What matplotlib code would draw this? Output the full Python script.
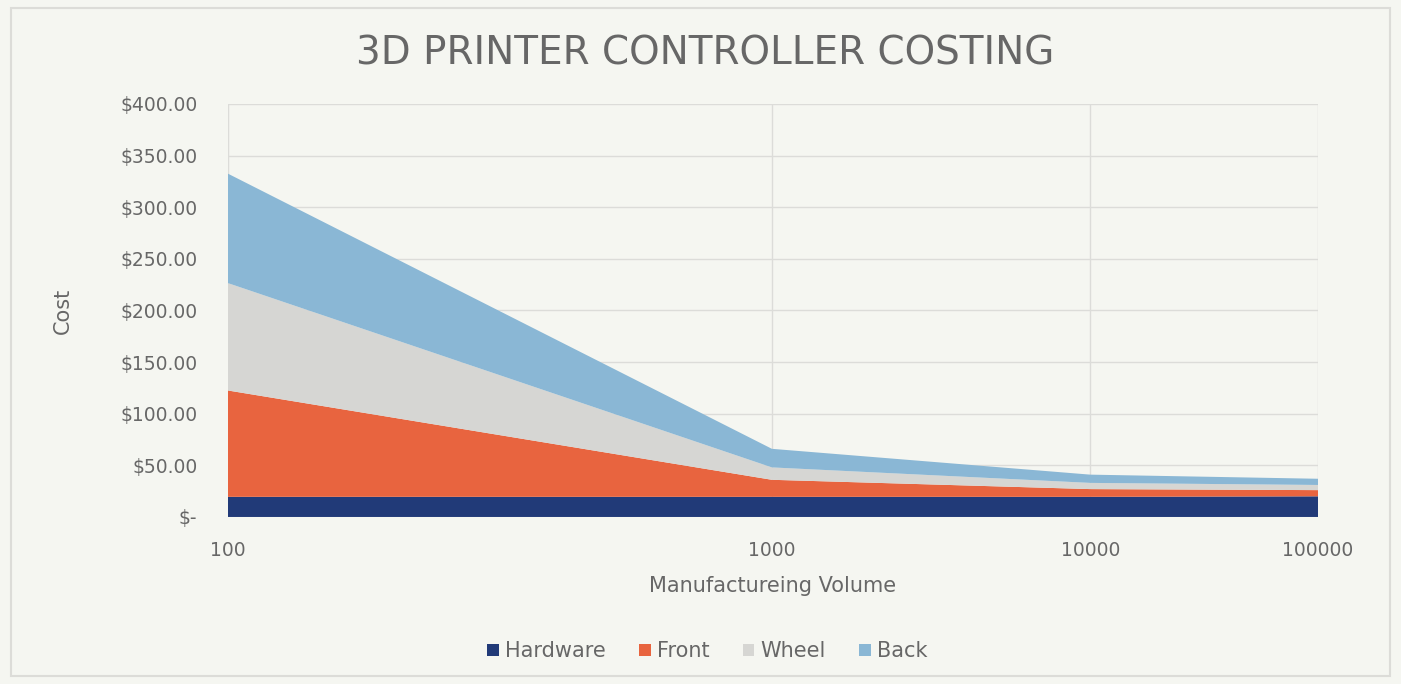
import matplotlib
matplotlib.use("Agg")
import matplotlib.pyplot as plt
import numpy as np
from matplotlib.patches import Rectangle, Patch

# ── Data ──────────────────────────────────────────────────────────────────────
volumes  = [100, 1000, 10000, 100000]
hardware = [19.5, 19.5, 19.5, 20.0]
front    = [103.0, 16.5, 7.5, 6.0]
wheel    = [104.0, 12.0, 6.0, 5.0]
back     = [106.0, 18.0, 8.0, 6.0]
series_names = ["Hardware", "Front", "Wheel", "Back"]
y_ticks  = [0, 50, 100, 150, 200, 250, 300, 350, 400]

colors = ["#213a78", "#e8643f", "#d6d6d3", "#8ab7d5"]
bg     = "#f5f6f1"
txt    = "#676767"

# The reference axis puts the categories at uneven spacing; mimic it with a scale
_logs = [2, 3, 4, 5]
_fracs = [0.0, 0.499, 0.791, 1.0]

def fwd(x):
    x = np.clip(np.asarray(x, dtype=float), 1e-9, None)
    return np.interp(np.log10(x), _logs, _fracs, left=-0.5, right=1.5)

def inv(f):
    return 10 ** np.interp(np.asarray(f, dtype=float), _fracs, _logs)

fig = plt.figure(figsize=(14.01, 6.84), dpi=100, facecolor=bg)
ax = fig.add_axes([0.1627, 0.2442, 0.9408 - 0.1627, 0.848 - 0.2442])
ax.set_facecolor(bg)
ax.set_xscale("function", functions=(fwd, inv))

ax.stackplot(volumes, hardware, front, wheel, back, colors=colors,
             labels=series_names, linewidth=0, zorder=2)

ax.set_xlim(volumes[0], volumes[-1])
ax.set_ylim(0, 400)
ax.set_xticks(volumes)
ax.set_xticklabels([str(v) for v in volumes])
ax.set_yticks(y_ticks)
ax.set_yticklabels(["$-" if v == 0 else f"${v:.2f}" for v in y_ticks])
ax.minorticks_off()
ax.tick_params(axis="both", length=0, labelsize=13.5, labelcolor=txt)
ax.tick_params(axis="y", pad=22)
ax.tick_params(axis="x", pad=17)

ax.grid(True, color="#dcdcd9", linewidth=1.0, zorder=0)
ax.set_axisbelow(True)
for s in ax.spines.values():
    s.set_visible(False)
ax.axvline(volumes[0], color="#dcdcd9", linewidth=1.5, zorder=1)

ax.set_xlabel("Manufactureing Volume", fontsize=15, color=txt, labelpad=12)
ax.set_ylabel("Cost", fontsize=15, color=txt, labelpad=34)

fig.text(0.503, 0.922, "3D PRINTER CONTROLLER COSTING", ha="center", va="center",
         fontsize=28, color=txt)

handles = [Patch(facecolor=c, edgecolor="none") for c in colors]
fig.legend(handles, series_names, loc="center", bbox_to_anchor=(0.505, 0.048),
           ncol=4, frameon=False, fontsize=15, labelcolor=txt,
           handlelength=0.55, handleheight=0.55, handletextpad=0.3, columnspacing=1.6)

fig.patches.append(Rectangle((0.008, 0.012), 0.984, 0.976, transform=fig.transFigure,
                             fill=False, edgecolor="#dcdcd8", linewidth=1.5))

fig.savefig("out.png", dpi=100, facecolor=bg)
